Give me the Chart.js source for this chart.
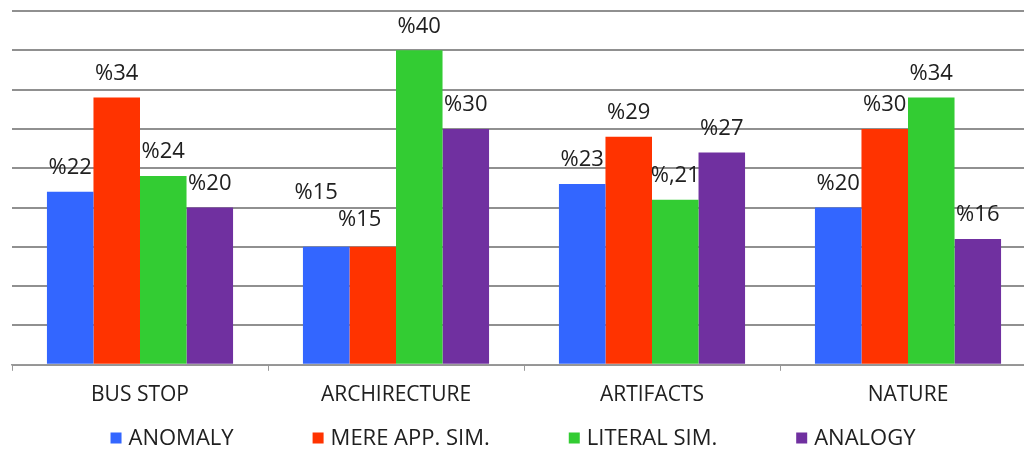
<!DOCTYPE html>
<html lang="en">
<head>
  <meta charset="UTF-8" />
  <title>Similarity Types by Category</title>
  <style>
    html, body { margin: 0; padding: 0; background: #fff; overflow: hidden; }
    .wrap { width: 1040px; height: 451px; }
  </style>
</head>
<body>
  <div class="wrap">
    <canvas id="simChart" width="1040" height="451"></canvas>
  </div>

  <script src="https://cdn.jsdelivr.net/npm/chart.js"></script>
  <script>
    const categories = ['BUS STOP', 'ARCHIRECTURE', 'ARTIFACTS', 'NATURE'];
    const anomaly    = [22, 15, 23, 20];
    const mereApp    = [34, 15, 29, 30];
    const literalSim = [24, 40, 21, 34];
    const analogy    = [20, 30, 27, 16];
    const seriesNames = ['ANOMALY', 'MERE APP. SIM.', 'LITERAL SIM.', 'ANALOGY'];
    const yTicks = [0, 5, 10, 15, 20, 25, 30, 35, 40, 45];

    const colors = ['#3366ff', '#ff3300', '#33cc33', '#7030a0'];
    const FONT = '"Open Sans", sans-serif';
    const TEXT = '#202020';

    // label text is built from the bar value; one label was typed with a stray comma
    function labelText(ds, i, v) {
      if (ds === 2 && i === 2) return '%,' + v;
      return '%' + v;
    }

    // a couple of labels in ARCHIRECTURE were moved by hand to avoid overlap
    const nudges = { '0,1': { dx: -10, dy: -30 }, '1,1': { dx: -13, dy: -3 } };

    const valueLabels = {
      id: 'valueLabels',
      afterDatasetsDraw(chart) {
        const ctx = chart.ctx;
        ctx.save();
        ctx.font = '22px ' + FONT;
        ctx.fillStyle = TEXT;
        ctx.textAlign = 'center';
        ctx.textBaseline = 'middle';
        chart.data.datasets.forEach((ds, d) => {
          chart.getDatasetMeta(d).data.forEach((bar, i) => {
            const n = nudges[d + ',' + i] || { dx: 0, dy: 0 };
            ctx.fillText(labelText(d, i, ds.data[i]), bar.x + n.dx, bar.y - 24 + n.dy);
          });
        });
        ctx.restore();
      }
    };

    // legend row under the axis: small square + name, items spread out like the original
    const bottomLegend = {
      id: 'bottomLegend',
      afterDraw(chart) {
        const ctx = chart.ctx;
        const box = 11, gapText = 7, gapItem = 79, y = 438;
        ctx.save();
        ctx.font = '22px ' + FONT;
        ctx.textBaseline = 'middle';
        const items = chart.data.datasets.map(ds => ({
          text: ds.label, color: ds.backgroundColor, w: box + gapText + ctx.measureText(ds.label).width
        }));
        const total = items.reduce((s, it) => s + it.w, 0) + gapItem * (items.length - 1);
        let x = 513 - total / 2;
        items.forEach(it => {
          ctx.fillStyle = it.color;
          ctx.fillRect(x, y - box / 2, box, box);
          ctx.fillStyle = TEXT;
          ctx.fillText(it.text, x + box + gapText, y + 1);
          x += it.w + gapItem;
        });
        ctx.restore();
      }
    };

    const seriesData = [anomaly, mereApp, literalSim, analogy];

    new Chart(document.getElementById('simChart'), {
      type: 'bar',
      data: {
        labels: categories,
        datasets: seriesNames.map((name, k) => ({
          label: name,
          data: seriesData[k],
          backgroundColor: colors[k],
          borderWidth: 0,
          barPercentage: 1,
          categoryPercentage: 0.727
        }))
      },
      options: {
        responsive: false,
        animation: false,
        layout: { padding: { top: 11, left: 12, right: 4, bottom: 31 } },
        scales: {
          x: {
            grid: { drawOnChartArea: false, drawTicks: true, tickLength: 6, color: '#999', offset: true },
            border: { display: true, color: '#999', width: 1.5 },
            ticks: { font: { family: FONT, size: 21 }, color: TEXT, padding: 12 }
          },
          y: {
            min: 0,
            max: 45,
            afterBuildTicks(axis) { axis.ticks = yTicks.map(v => ({ value: v })); },
            ticks: { display: false },
            grid: { drawTicks: false, color: '#909090', lineWidth: 2 },
            border: { display: false }
          }
        },
        plugins: {
          legend: { display: false },
          tooltip: { enabled: false }
        }
      },
      plugins: [valueLabels, bottomLegend]
    });
  </script>
</body>
</html>
